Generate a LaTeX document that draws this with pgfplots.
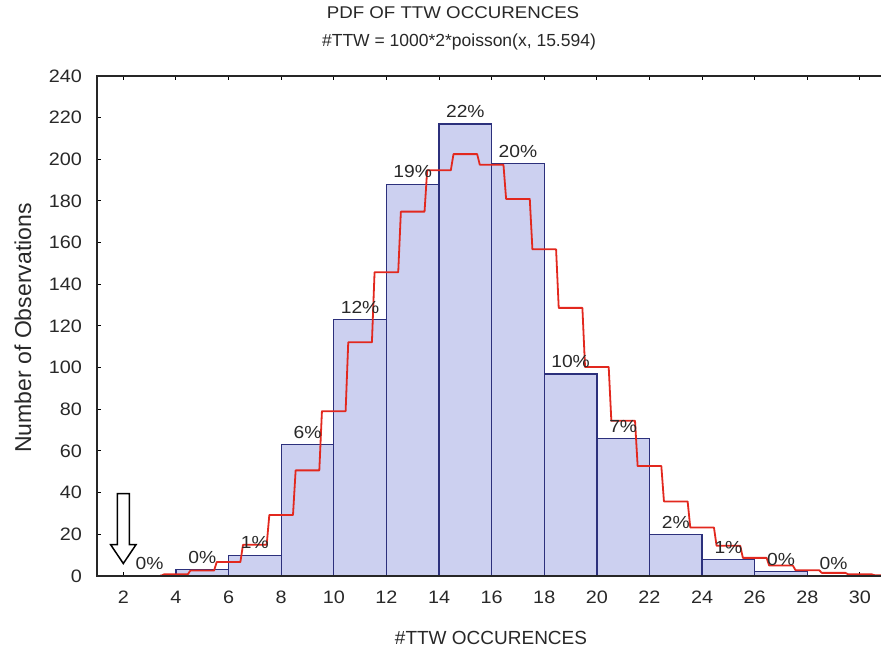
\documentclass[border=0pt]{standalone}
\usepackage{fontspec}
\setmainfont{Liberation Sans}
\newfontfamily\wide[FakeStretch=1.1]{Liberation Sans}
\usepackage{pgfplots}
\pgfplotsset{compat=1.18}
\definecolor{barfill}{RGB}{204,208,240}
\definecolor{bardraw}{RGB}{44,48,124}
\definecolor{redline}{RGB}{226,40,30}
\definecolor{txt}{RGB}{40,40,40}
\begin{document}
\begin{tikzpicture}
\begin{axis}[
  at={(0,0)}, anchor=south west,
  scale only axis, width=784pt, height=500pt,
  xmin=1, xmax=30.8, ymin=0, ymax=240,
  xtick={2,4,...,30}, ytick={0,20,...,240},
  tick align=inside, xtick pos=both, ytick pos=left, xticklabel pos=lower,
  major tick length=4pt,
  every tick/.style={black, line width=1pt},
  axis line style={draw=none},
  /pgf/number format/assume math mode=true,
  x tick label style={font=\wide\fontsize{18}{18}\selectfont, text=txt, anchor=north, inner sep=0pt, yshift=-15pt},
  y tick label style={font=\wide\fontsize{18}{18}\selectfont, text=txt, anchor=east, inner sep=0pt, xshift=-15pt},
  clip=false,
]
% histogram bins of width 2
\addplot[ybar interval, fill=barfill, draw=bardraw, line width=1.3pt] coordinates {
  (2,0) (4,3) (6,10) (8,63) (10,123) (12,188) (14,217) (16,198)
  (18,97) (20,66) (22,20) (24,8) (26,2) (28,0) (30,0)
};
% fitted Poisson step curve
\addplot[draw=redline, line width=1.8pt, line join=round, mark=none] coordinates {
  (3.4,0.2)(3.45,0.2)(3.55,0.8)(4.45,0.8)(4.55,2.6)(5.45,2.6)(5.55,6.7)(6.45,6.7)
  (6.55,15.0)(7.45,15.0)(7.55,29.3)(8.45,29.3)(8.55,50.7)(9.45,50.7)(9.55,79.1)
  (10.45,79.1)(10.55,112.2)(11.45,112.2)(11.55,145.8)(12.45,145.8)(12.55,174.9)
  (13.45,174.9)(13.55,194.8)(14.45,194.8)(14.55,202.5)(15.45,202.5)(15.55,197.4)
  (16.45,197.4)(16.55,181.0)(17.45,181.0)(17.55,156.8)(18.45,156.8)(18.55,128.7)
  (19.45,128.7)(19.55,100.3)(20.45,100.3)(20.55,74.5)(21.45,74.5)(21.55,52.8)
  (22.45,52.8)(22.55,35.8)(23.45,35.8)(23.55,23.3)(24.45,23.3)(24.55,14.5)
  (25.45,14.5)(25.55,8.7)(26.45,8.7)(26.55,5.0)(27.45,5.0)(27.55,2.8)(28.45,2.8)
  (28.55,1.5)(29.45,1.5)(29.55,0.8)(30.45,0.8)(30.55,0.4)(30.8,0.4)
};
% percentage labels
\addplot[draw=none, mark=none, nodes near coords, point meta=explicit symbolic,
  nodes near coords style={font=\wide\fontsize{17.5}{17.5}\selectfont, text=txt, anchor=south, inner sep=0pt, yshift=6pt}]
  coordinates {
  (3,0) [0\%] (5,3) [0\%] (7,10) [1\%] (9,63) [6\%] (11,123) [12\%]
  (13,188) [19\%] (15,217) [22\%] (17,198) [20\%] (19,97) [10\%]
  (21,66) [7\%] (23,20) [2\%] (25,8) [1\%] (27,2) [0\%] (29,0) [0\%]
};
% hollow arrow marker
\addplot[draw=black, line width=1.5pt, fill=white, mark=none] coordinates {
  (1.77,39.5) (2.23,39.5) (2.23,15) (2.48,15) (2,6) (1.52,15) (1.77,15)
} -- cycle;
\draw[line width=1.3pt, black!85] (rel axis cs:1,1) -- (rel axis cs:0,1) -- (rel axis cs:0,0) -- (rel axis cs:1,0);
\end{axis}
\node[font=\wide\fontsize{17}{17}\selectfont, text=txt] at (356pt,563pt) {PDF OF TTW OCCURENCES};
\node[font=\fontsize{17.5}{17.5}\selectfont, text=txt] at (362pt,534pt) {\#TTW = 1000*2*poisson(x, 15.594)};
\node[font=\fontsize{19}{19}\selectfont, text=txt] at (394pt,-62pt) {\#TTW OCCURENCES};
\node[font=\fontsize{23}{23}\selectfont, text=txt, rotate=90] at (-74pt,248pt) {Number of Observations};
\pgfresetboundingbox
\useasboundingbox (-97pt,-74pt) rectangle (784pt,576pt);
\end{tikzpicture}
\end{document}
